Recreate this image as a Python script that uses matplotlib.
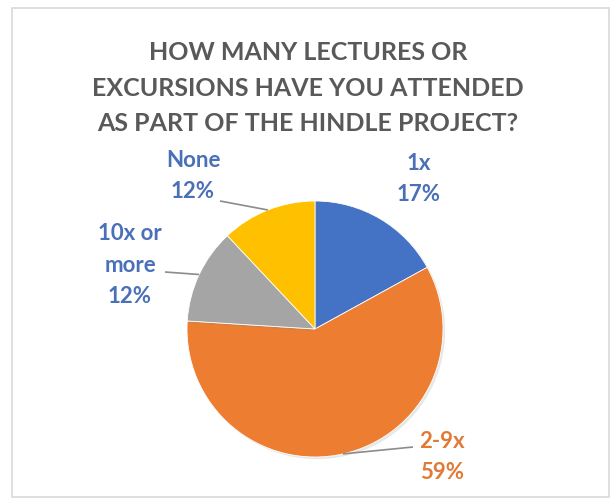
import numpy as np
import matplotlib
matplotlib.use("Agg")
import matplotlib.pyplot as plt
from matplotlib.patches import Rectangle
import matplotlib.patheffects as pe

plt.rcParams['font.family'] = ['Lato', 'DejaVu Sans']

# Survey answers
categories = ["1x", "2-9x", "10x or\nmore", "None"]
shares = [17, 59, 12, 12]
slice_colors = ["#4472C4", "#ED7D31", "#A5A5A5", "#FFC000"]
label_colors = ["#4A70B8", "#E07A36", "#4A70B8", "#4A70B8"]
title = "HOW MANY LECTURES OR\nEXCURSIONS HAVE YOU ATTENDED\nAS PART OF THE HINDLE PROJECT?"

W, H = 616, 503
fig = plt.figure(figsize=(W / 100, H / 100), dpi=100)
ax = fig.add_axes([0, 0, 1, 1])

cx, cy, r = 315, H - 329, 128
wedges, _ = ax.pie(shares, colors=slice_colors, startangle=90, counterclock=False,
                   center=(cx, cy), radius=r, frame=True,
                   wedgeprops=dict(edgecolor="white", linewidth=0.6))
for w in wedges:
    w.set_path_effects([pe.SimplePatchShadow(offset=(1.5, -1.5), alpha=0.18,
                                             shadow_rgbFace="#7f7f7f"), pe.Normal()])

ax.set_xlim(0, W)
ax.set_ylim(0, H)
ax.set_aspect("equal")
ax.axis("off")

# Outer chart border
ax.add_patch(Rectangle((12, H - 497), 597, 489, fill=False, edgecolor="#D9D9D9", linewidth=1.2))

ax.text(W / 2, H - 88, title, ha="center", va="center", fontsize=18,
        fontweight="bold", color="#595959", linespacing=1.68)

# label anchor (text centre) and leader end for each slice
label_pos = [(419, 179), (442, 457), (130, 265), (193, 176)]
leader_end = [None, (413, 447), (165, 272), (220, 201)]

total = sum(shares)
start = 90.0
for i, (cat, v) in enumerate(zip(categories, shares)):
    sweep = 360.0 * v / total
    mid = np.deg2rad(start - sweep / 2)
    start -= sweep
    ex, ey = cx + r * np.cos(mid), cy + r * np.sin(mid)
    tx, ty = label_pos[i]
    ax.text(tx, H - ty, f"{cat}\n{round(100 * v / total)}%", ha="center", va="center",
            fontsize=16, fontweight="bold", color=label_colors[i], linespacing=1.6)
    if leader_end[i] is not None:
        lx, ly = leader_end[i]
        ax.plot([ex, lx], [ey, H - ly], color="#8C8C8C", linewidth=1.2, solid_capstyle="butt")

fig.savefig("out.png", dpi=100)
